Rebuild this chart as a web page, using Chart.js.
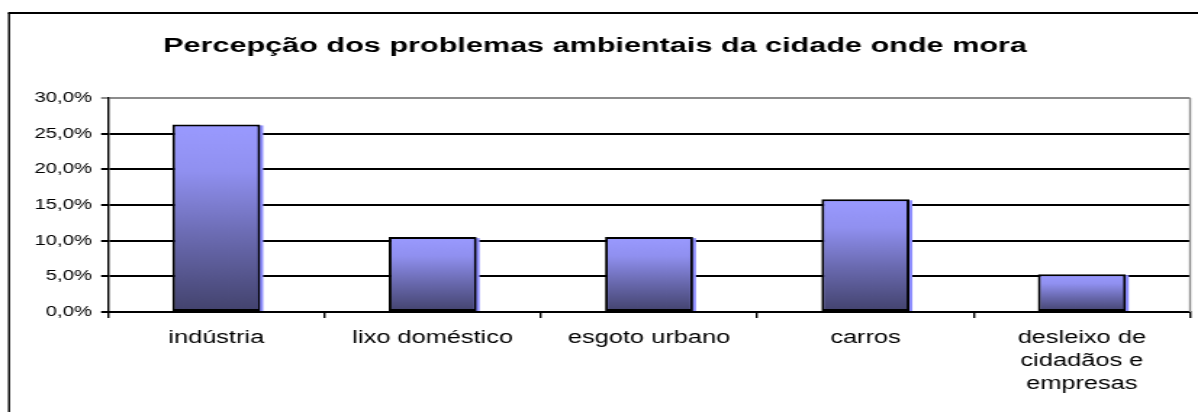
<!DOCTYPE html>
<html>
<head>
<meta charset="utf-8">
<script src="https://cdn.jsdelivr.net/npm/chart.js@4.4.0/dist/chart.umd.min.js"></script>
<style>
  html, body { margin: 0; padding: 0; background: #fff; overflow: hidden; }
  /* the reference is stretched wide, so draw narrow and stretch it */
  #wrap { width: 826px; height: 412px; transform: scaleX(1.4504); transform-origin: 0 0; }
</style>
</head>
<body>
<div id="wrap"><canvas id="chart" width="826" height="412"></canvas></div>
<script>
const chartTitle = "Percepção dos problemas ambientais da cidade onde mora";
const categories = [
  "indústria",
  "lixo doméstico",
  "esgoto urbano",
  "carros",
  ["desleixo de", "cidadãos e", "empresas"],
];
const percentages = [26.3, 10.5, 10.5, 15.8, 5.3];
const yTicks = [0, 5, 10, 15, 20, 25, 30];

Chart.defaults.font.family = "'Liberation Sans', Arial, sans-serif";
Chart.defaults.color = "#000";

const frame = {
  id: "frame",
  beforeDraw(chart) {
    const ctx = chart.ctx;
    ctx.save();
    ctx.fillStyle = "#fff";
    ctx.fillRect(0, 0, chart.width, chart.height);
    ctx.strokeStyle = "#000";
    ctx.beginPath();
    ctx.lineWidth = 1.4;
    ctx.moveTo(6.2, 13);
    ctx.lineTo(6.2, chart.height + 5);
    ctx.stroke();
    ctx.beginPath();
    ctx.lineWidth = 2;
    ctx.moveTo(5.5, 13);
    ctx.lineTo(chart.width + 5, 13);
    ctx.stroke();
    ctx.restore();
  },
  beforeDatasetsDraw(chart) {
    const ctx = chart.ctx;
    const a = chart.chartArea;
    ctx.save();
    ctx.strokeStyle = "#8c8c8c";
    ctx.lineWidth = 1.4;
    ctx.beginPath();
    ctx.moveTo(a.right, a.top);
    ctx.lineTo(a.right, a.bottom);
    ctx.stroke();
    // drop shadow to the right of each bar
    ctx.fillStyle = "#8f8fff";
    chart.getDatasetMeta(0).data.forEach((bar) => {
      const p = bar.getProps(["x", "y", "base", "width"], true);
      ctx.fillRect(p.x - p.width / 2 + 2, p.y + 1, p.width, p.base - p.y - 1);
    });
    ctx.restore();
  },
};

new Chart(document.querySelector("#chart"), {
  type: "bar",
  data: {
    labels: categories,
    datasets: [
      {
        data: percentages,
        backgroundColor: (c) => {
          const chart = c.chart;
          if (!chart.chartArea || c.type !== "data") return "#7a7ad8";
          const y = chart.scales.y;
          const top = y.getPixelForValue(c.raw);
          const base = y.getPixelForValue(0);
          const g = chart.ctx.createLinearGradient(0, top, 0, base);
          g.addColorStop(0, "#9a9aff");
          g.addColorStop(0.25, "#9090f0");
          g.addColorStop(0.6, "#6a6ab0");
          g.addColorStop(1, "#42426c");
          return g;
        },
        borderColor: "#000",
        borderWidth: 2,
        borderSkipped: false,
        barPercentage: 0.407,
        categoryPercentage: 1,
      },
    ],
  },
  options: {
    responsive: false,
    animation: false,
    layout: { padding: { left: 0, right: 5.5, top: 20, bottom: 0 } },
    plugins: {
      legend: { display: false },
      tooltip: { enabled: false },
      title: {
        display: true,
        text: chartTitle,
        font: { size: 21.1, weight: "bold" },
        color: "#000",
        padding: { top: 13.9, bottom: 38.8 },
      },
    },
    scales: {
      y: {
        min: 0,
        max: 30,
        afterBuildTicks: (scale) => {
          scale.ticks = yTicks.map((v) => ({ value: v }));
        },
        afterFit: (scale) => {
          scale.width = 74.5;
        },
        ticks: {
          font: { size: 14 },
          color: "#000",
          padding: 6.3,
          callback: (v) => v.toFixed(1).replace(".", ",") + "%",
        },
        grid: {
          color: (c) => (c.tick && c.tick.value === 30 ? "#8c8c8c" : "#000"),
          lineWidth: 2,
          tickLength: 4.8,
        },
        border: { display: true, color: "#000", width: 1.4 },
      },
      x: {
        afterFit: (scale) => {
          scale.height = 100;
        },
        ticks: {
          font: { size: 17.5, lineHeight: 1.314 },
          color: "#000",
          padding: 9,
          maxRotation: 0,
          autoSkip: false,
        },
        grid: {
          offset: true,
          drawOnChartArea: false,
          drawTicks: true,
          tickLength: 6,
          color: "#000",
          lineWidth: 1.4,
        },
        border: { display: true, color: "#000", width: 2 },
      },
    },
  },
  plugins: [frame],
});
</script>
</body>
</html>
